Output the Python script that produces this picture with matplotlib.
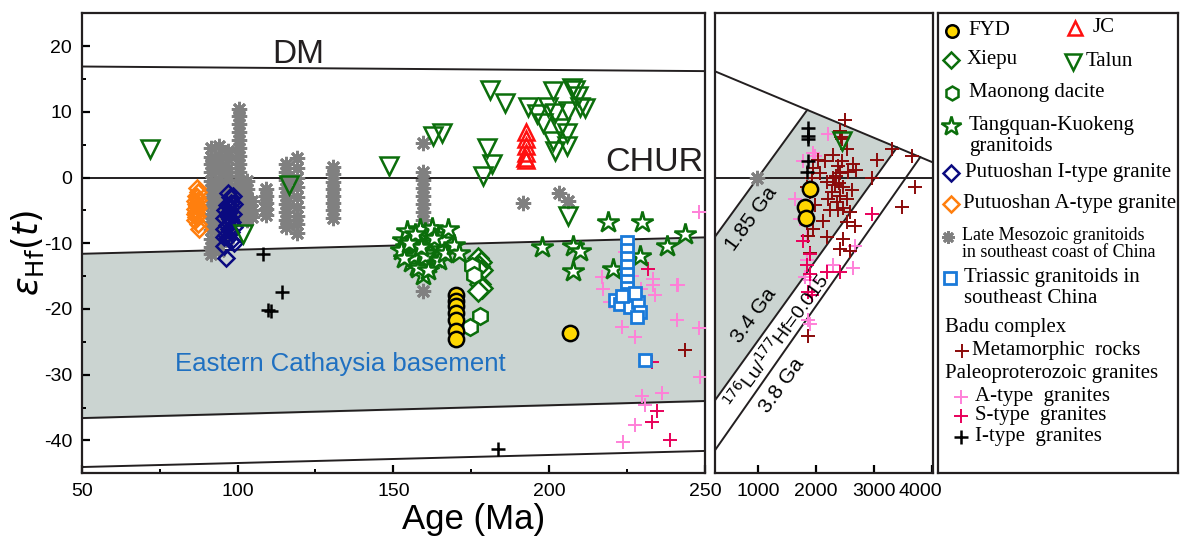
import numpy as np
import matplotlib
matplotlib.use('Agg')
import matplotlib.pyplot as plt
from matplotlib.transforms import ScaledTranslation

plt.rcParams['font.family'] = 'Liberation Sans'
plt.rcParams['axes.unicode_minus'] = False
plt.rcParams['mathtext.fontset'] = 'dejavusans'

# ---- reference lines ----
DM_L_X, DM_L_Y = [50, 250], [16.9, 16.2]
DM_R_X, DM_R_Y = [250, 4020], [16.2, 2.3]
BAND_X = [50, 250]
BAND_TOP = [-11.6, -9.1]
BAND_BOT = [-36.6, -34.0]
LOW_Y = [-44.05, -41.6]
G185_X, G185_Y = [250, 1850], [-9.1, 10.3]
G34_X, G34_Y = [250, 3400], [-34.0, 4.6]
G38_X, G38_Y = [250, 3800], [-41.6, 3.1]

# ---- data (age Ma, eHf(t)) ----
FYD_AGE = [170, 170, 170, 170, 170, 170, 170, 206.7, 1897, 1810, 1828]
FYD_EHF = [-17.8, -18.8, -19.6, -20.6, -21.7, -23.4, -24.5, -23.7, -1.8, -4.5, -6.1]

JC_AGE = [192.5, 192.5, 192.5, 192.5, 192.3, 192.7]
JC_EHF = [7.0, 5.9, 4.8, 3.8, 3.0, 2.6]

TALUN_AGE = [72, 116.5, 101.8, 148.5, 181, 185.8, 165.5, 162.8, 180, 181.6, 178.9,
             206.1, 193.3, 196, 198.1, 201.3, 201.9, 201.3, 201.9, 205.6, 206.1,
             207.2, 208.3, 209.9, 211.5, 199.7, 205.6, 203.5, 209.3, 2443]
TALUN_EHF = [4.4, -1.1, -8.6, 1.7, 13.4, 11.4, 6.8, 6.3, 4.5, 2.0, 0.2,
             -5.8, 10.8, 9.6, 8.3, 13.1, 9.8, 5.5, 4.0, 6.8, 10.1,
             13.6, 13.4, 10.8, 10.6, 10.8, 4.8, 7.6, 12.4, 5.6]

XIEPU_AGE = [177.0, 178.2, 177.5, 178.5, 176.8, 177.8, 178.3, 177.2]
XIEPU_EHF = [-12.3, -12.8, -13.5, -14.0, -13.8, -16.2, -16.8, -17.2]

MAONONG_AGE = [175.2, 176.0, 177.8, 174.6]
MAONONG_EHF = [-13.5, -14.8, -21.0, -22.7]

TK_AGE = [153, 154, 155, 156, 157, 158, 159, 160, 161, 162, 163, 164, 155.5, 157.5,
          159.5, 161.5, 163.5, 154.5, 158.5, 162.5, 165, 166, 152.5, 156.5, 160.5,
          164.5, 158, 160, 157, 153.5, 161, 163, 159, 155, 166.5, 167.5, 169.5, 171,
          197.6, 207.7, 209.9, 207.7, 219, 229.7, 220.6, 229.1, 237.7, 243.6]
TK_EHF = [-9.5, -10.5, -11.8, -9.0, -10.2, -11.2, -12.5, -8.5, -9.8, -11.0, -10.0, -8.8,
          -12.8, -13.5, -14.8, -13.0, -12.2, -8.2, -7.8, -7.6, -10.8, -9.5, -11.0, -12.0,
          -11.5, -12.5, -13.8, -12.0, -8.6, -12.3, -14.0, -9.2, -10.6, -10.0, -11.5,
          -7.8, -10.2, -11.5,
          -10.6, -10.4, -11.1, -14.2, -6.8, -6.8, -13.9, -11.9, -10.4, -8.6]

PI_AGE = [97.5, 97.8, 98, 97.3, 96.8, 97.5, 98.2, 96.5, 97.2, 98, 96.2, 97, 95.8, 96,
          98.5, 99, 98.8, 96.5, 95.5, 95.8, 99, 96.2, 97.8, 95.5, 97, 98.4]
PI_EHF = [-3.0, -3.8, -4.5, -5.2, -5.8, -6.3, -6.8, -7.2, -7.8, -8.3, -8.8, -9.2, -6.2,
          -5.0, -5.5, -4.0, -7.5, -4.2, -7.8, -10.4, -9.9, -12.2, -9.6, -9.0, -2.4, -2.8]

PA_AGE = [87, 87.3, 86.8, 87.2, 86.6, 87.4, 86.8, 87.1, 86.5, 87.3, 87.7, 86.9, 87.0,
          86.7, 86.2, 86.4, 86.3]
PA_EHF = [-1.6, -2.2, -2.8, -3.4, -4.0, -4.6, -5.2, -5.8, -6.4, -7.0, -7.8, -3.0, -4.3,
          -6.0, -3.6, -4.8, -5.6]

LM_AGE = [91.5, 91.5, 91.5, 91.5, 91.5, 91.5, 91.5, 91.5, 91.5, 91.5, 91.5, 91.5, 91.5, 91.5,
          94, 94, 94, 94, 94, 94, 94, 94, 94, 94, 94, 94, 94, 94,
          97, 97, 97, 97, 97, 97, 97, 97, 97,
          100.5, 100.5, 100.5, 100.5, 100.5, 100.5, 100.5, 100.5, 100.5, 100.5,
          100.5, 100.5, 100.5, 100.5, 100.5,
          103, 103, 103, 103, 103, 103, 104.5, 104.5, 104.5,
          109, 109, 109, 109, 109,
          115.5, 115.5, 115.5, 115.5, 115.5, 115.5, 115.5, 115.5, 115.5,
          119, 119, 119, 119, 119, 119, 119, 119, 119,
          130.5, 130.5, 130.5, 130.5, 130.5, 130.5, 130.5, 130.5,
          159.5, 159.5, 159.5, 159.5, 159.5, 159.5, 159.5, 159.5, 159.5, 159.5, 159.5,
          191.7, 203, 206, 977]
LM_EHF = [4.5, 3.2, 2.0, 0.8, -0.5, -1.8, -3.0, -4.2, -5.5, -6.8, -8.0, -9.3, -10.5, -11.6,
          4.8, 3.5, 2.2, 1.0, -0.3, -1.6, -2.9, -4.1, -5.4, -6.6, -7.9, -9.1, -10.4, -11.2,
          4.0, 2.8, 1.5, 0.2, -1.0, -2.3, -5.0, -8.0, -9.2,
          10.5, 9.3, 8.1, 6.9, 5.7, 4.5, 3.3, 2.1, 0.9, -0.3,
          -1.5, -2.7, -3.9, -5.1, -6.3,
          -0.5, -1.7, -2.9, -4.1, -5.3, -6.5, -3.5, -5.0, -6.0,
          -1.8, -2.8, -3.8, -4.8, -5.7,
          2.0, 0.8, -0.4, -1.6, -2.8, -4.0, -5.2, -6.4, -7.5,
          3.0, 1.5, 0.0, -1.5, -3.0, -4.5, -5.8, -7.0, -8.5,
          1.6, 0.5, -0.6, -1.7, -2.8, -3.9, -5.0, -6.1,
          5.3, 0.8, -0.4, -1.6, -2.8, -4.0, -5.2, -6.4, -7.6, -8.8, -17.2,
          -3.8, -2.3, -3.5, -0.1]

TRI_AGE = [224.8, 224.8, 224.8, 224.8, 224.8, 224.8, 224.8, 221.1, 222.7, 225.4, 226,
           228.6, 229.1, 228.1, 227.5, 223.5, 230.7]
TRI_EHF = [-9.8, -11.0, -12.2, -13.4, -14.6, -15.8, -16.8, -18.7, -19.2, -17.7, -19.7,
           -18.9, -20.5, -21.2, -17.5, -18.0, -27.8]

META_AGE = [243.6, 3305, 3046, 2960, 2700, 3650, 3706, 3477, 1897, 1868, 2127, 2184,
            2528, 2500, 2414, 2299, 2155, 2069, 2299, 2471, 2528, 2356, 2586, 2672, 2471,
            2586, 2414, 1839, 1868, 1954, 1983, 1897, 1839, 1925, 1954, 2040, 2213, 2241,
            2643, 2414, 2328, 2443, 2557, 2614, 2270, 2184, 2385, 2528, 2450, 2380, 2420,
            2470, 2350, 2440, 2400]
META_EHF = [-26.3, 4.3, 2.7, -0.1, 1.2, 3.3, -1.4, -4.5, -11.5, -24.1, -6.6, -9.1,
            4.3, 8.7, 7.1, 3.5, 2.5, 0.7, -0.1, -1.4, -3.2, -3.7, -5.3, -7.3, -9.4,
            -11.2, -10.9, -6.8, -8.9, -7.9, -4.2, -2.2, -1.4, -0.1, 1.4, 2.7, -3.2, -5.0,
            2.0, 0.7, -1.1, 2.5, 0.9, -1.9, -2.2, -0.6, -5.0, -6.8, 5.8, 1.8, -2.8,
            -4.6, 0.2, 6.2, -0.8]

ATYPE_AGE = [247.9, 216.9, 217.4, 224.3, 233.4, 241.4, 219.5, 223.3, 227.5, 240.9, 247.9,
             248.4, 229.7, 236.1, 230.7, 227.5, 223.8, 233.4, 234, 240.9, 226.5, 229.5,
             2213, 1954, 1638, 1724, 1839, 1839, 1897, 1868, 1897, 2672, 2299, 2643,
             1810, 1983, 1782]
ATYPE_EHF = [-5.3, -15.2, -16.9, -11.4, -15.4, -16.4, -18.9, -22.7, -24.2, -21.7, -22.9,
             -30.3, -33.3, -32.8, -34.6, -37.6, -40.2, -16.4, -17.9, -16.4, -15.0, -17.0,
             6.6, 3.8, -3.2, -6.3, -8.9, -12.5, -15.6, -21.6, -22.3, -10.4, -13.3, -13.8,
             -15.1, 3.3, 2.5]

STYPE_AGE = [231.8, 232.9, 234.5, 232.9, 238.8, 2960, 2184, 2414, 1897, 1868, 1925,
             1782, 1897, 1839]
STYPE_EHF = [-13.9, -28.0, -35.5, -37.2, -39.9, -5.5, -14.3, -14.3, -14.6, -17.4,
             -17.9, -9.7, -11.7, -13.3]

ITYPE_AGE = [108.1, 114.2, 109.7, 110.8, 183.7, 1860, 1860, 1860, 1860, 1845]
ITYPE_EHF = [-11.7, -17.4, -20.1, -20.3, -41.3, 7.6, 6.4, 5.8, 2.5, 0.9]

GREEN = '#0b6e0b'
GRAYFILL = '#cbd4d1'
LINEC = '#231f20'
STYLES = {
    'fyd': dict(marker='o', ms=11, mfc='#ffd700', mec='black', mew=1.8),
    'jc': dict(marker='^', ms=11, mfc='none', mec='#ff1010', mew=1.8),
    'talun': dict(marker='v', ms=13, mfc='none', mec=GREEN, mew=1.8),
    'xiepu': dict(marker='D', ms=10, mfc='white', mec=GREEN, mew=1.8),
    'maonong': dict(marker='h', ms=12, mfc='white', mec=GREEN, mew=1.8),
    'tk': dict(marker='*', ms=16, mfc='white', mec=GREEN, mew=1.8),
    'pi': dict(marker='D', ms=8, mfc='none', mec='#0a0a80', mew=1.8),
    'pa': dict(marker='D', ms=8, mfc='none', mec='#ff7f0e', mew=1.8),
    'lm': dict(marker=(8, 2, 0), ms=11, mfc='#808080', mec='#808080', mew=2.0),
    'tri': dict(marker='s', ms=9, mfc='white', mec='#1a7ad9', mew=2),
    'meta': dict(marker='+', ms=10, mec='#8b0a0a', mew=1.4),
    'atype': dict(marker='+', ms=10, mec='#ff80d8', mew=1.4),
    'stype': dict(marker='+', ms=10, mec='#e8005a', mew=1.4),
    'itype': dict(marker='+', ms=10, mec='black', mew=1.8),
}

fig = plt.figure(figsize=(11.81, 5.38), dpi=100)
ax1 = fig.add_axes([0.0692, 0.1203, 0.5278, 0.855])
ax2 = fig.add_axes([0.6050, 0.1203, 0.1850, 0.855])
leg = fig.add_axes([0.7942, 0.1203, 0.2030, 0.855])

for ax in (ax1, ax2):
    ax.set_ylim(-45, 25)
    for s in ax.spines.values():
        s.set_linewidth(1.6)
        s.set_color(LINEC)
ax1.set_xlim(50, 250)
ax2.set_xlim(250, 4020)

# reference lines and fields
ax1.fill_between(BAND_X, BAND_TOP, BAND_BOT, color=GRAYFILL, zorder=0)
for xs, ys in [(DM_L_X, DM_L_Y), (BAND_X, BAND_TOP), (BAND_X, BAND_BOT), (BAND_X, LOW_Y)]:
    ax1.plot(xs, ys, color=LINEC, lw=1.4, zorder=1)
ax1.axhline(0, color=LINEC, lw=1.4, zorder=1)

poly_x = [G185_X[0], G185_X[1], G34_X[1], G34_X[0]]
poly_y = [G185_Y[0], G185_Y[1], G34_Y[1], G34_Y[0]]
ax2.fill(poly_x, poly_y, color=GRAYFILL, zorder=0, lw=0)
for xs, ys in [(DM_R_X, DM_R_Y), (G185_X, G185_Y), (G34_X, G34_Y), (G38_X, G38_Y)]:
    ax2.plot(xs, ys, color=LINEC, lw=1.4, zorder=1)
ax2.axhline(0, color=LINEC, lw=1.4, zorder=1)


def scatter_both(age, ehf, style):
    age = np.asarray(age, dtype=float)
    ehf = np.asarray(ehf, dtype=float)
    left = age <= 250
    ax1.plot(age[left], ehf[left], ls='none', zorder=3, **STYLES[style])
    ax2.plot(age[~left], ehf[~left], ls='none', zorder=3, **STYLES[style])


scatter_both(LM_AGE, LM_EHF, 'lm')
scatter_both(ATYPE_AGE, ATYPE_EHF, 'atype')
scatter_both(META_AGE, META_EHF, 'meta')
scatter_both(STYPE_AGE, STYPE_EHF, 'stype')
scatter_both(ITYPE_AGE, ITYPE_EHF, 'itype')
scatter_both(PA_AGE, PA_EHF, 'pa')
scatter_both(PI_AGE, PI_EHF, 'pi')
scatter_both(TK_AGE, TK_EHF, 'tk')
scatter_both(XIEPU_AGE, XIEPU_EHF, 'xiepu')
scatter_both(MAONONG_AGE, MAONONG_EHF, 'maonong')
scatter_both(TRI_AGE, TRI_EHF, 'tri')
scatter_both(TALUN_AGE, TALUN_EHF, 'talun')
scatter_both(JC_AGE, JC_EHF, 'jc')
scatter_both(FYD_AGE, FYD_EHF, 'fyd')

# ticks
ax1.set_xticks([50, 100, 150, 200, 250])
ax1.set_xticks([75, 125, 175, 225], minor=True)
ax1.set_yticks([-40, -30, -20, -10, 0, 10, 20])
ax1.set_yticks([-35, -25, -15, -5, 5, 15], minor=True)
ax1.tick_params(which='major', direction='in', length=6, width=1.6, labelsize=14, pad=7,
                top=False, right=False)
ax1.tick_params(which='minor', direction='in', length=3, width=1.4, top=False, right=False)
ax2.set_xticks([1000, 2000, 3000, 4000])
ax2.set_yticks([])
ax2.tick_params(which='major', direction='in', length=6, width=1.6, labelsize=14, pad=7)
lab4000 = ax2.get_xticklabels()[-1]
lab4000.set_transform(lab4000.get_transform() + ScaledTranslation(-0.12, 0, fig.dpi_scale_trans))

# texts
ax1.text(119.4, 18.7, 'DM', fontsize=24, ha='center', va='center', color=LINEC)
ax1.text(249.5, 2.3, 'CHUR', fontsize=24.5, ha='right', va='center', color=LINEC)
ax1.text(80, -28.4, 'Eastern Cathaysia basement', fontsize=18.5, ha='left', va='center',
         color='#1f70c1')
rot = 54
ax2.text(890, -6.2, '1.85 Ga', fontsize=15, rotation=rot, rotation_mode='anchor',
         ha='center', va='center')
ax2.text(930, -21.0, '3.4 Ga', fontsize=15, rotation=rot, rotation_mode='anchor',
         ha='center', va='center')
ax2.text(1320, -24.9, r'$^{176}$Lu/$^{177}$Hf=0.015', fontsize=14, rotation=rot,
         rotation_mode='anchor', ha='center', va='center')
ax2.text(1409, -31.6, '3.8 Ga', fontsize=15, rotation=rot, rotation_mode='anchor',
         ha='center', va='center')

fig.text(474 / 1181, 1 - 520 / 538, 'Age (Ma)', fontsize=25, ha='center', va='center')
fig.text(28 / 1181, 1 - 253 / 538, r'$\varepsilon_{\rm Hf}(t)$', fontsize=25, rotation=90,
         ha='center', va='center')

# legend panel (pixel coords)
leg.set_xlim(938, 1179)
leg.set_ylim(473.3, 13.3)
leg.set_xticks([])
leg.set_yticks([])
for s in leg.spines.values():
    s.set_linewidth(1.6)
    s.set_color(LINEC)

serif = 'Liberation Serif'
legend_marks = [
    ('fyd', 951.7, 30.7, 'FYD', 969, 9),
    ('jc', 1075.7, 28, 'JC', 1093, 10),
    ('xiepu', 951, 60, 'Xiepu', 967, 8),
    ('talun', 1074, 61.7, 'Talun', 1086, 11),
    ('maonong', 952, 93, 'Maonong dacite', 969, 10),
    ('tk', 951, 126, 'Tangquan-Kuokeng', 969, 15),
    ('pi', 951, 173, 'Putuoshan I-type granite', 965, 8),
    ('pa', 951, 204, 'Putuoshan A-type granite', 963, 8),
    ('lm', 948, 237, None, None, 9),
    ('tri', 950, 278, 'Triassic granitoids in', 964, 8),
    ('meta', 962, 351, 'Metamorphic  rocks', 972, 10),
    ('atype', 961, 397, 'A-type  granites', 975, 10),
    ('stype', 961, 416, 'S-type  granites', 975, 10),
    ('itype', 961, 437, 'I-type  granites', 975, 10),
]
for key, mx, my, label, tx, ms in legend_marks:
    st = dict(STYLES[key])
    st['ms'] = ms
    leg.plot([mx], [my], ls='none', clip_on=False, **st)
    if label:
        leg.text(tx, my, label, fontsize=15, family=serif, ha='left', va='center')
leg.text(969, 147, 'granitoids', fontsize=15, family=serif, ha='left', va='center')
leg.text(962, 236, 'Late Mesozoic granitoids', fontsize=13, family=serif, ha='left', va='center')
leg.text(962, 253, 'in southeast coast of China', fontsize=13, family=serif, ha='left',
         va='center')
leg.text(964, 299, 'southeast China', fontsize=15, family=serif, ha='left', va='center')
leg.text(945, 328, 'Badu complex', fontsize=15, family=serif, ha='left', va='center')
leg.text(945, 374, 'Paleoproterozoic granites', fontsize=15, family=serif, ha='left',
         va='center')

fig.savefig('out.png', dpi=100)
